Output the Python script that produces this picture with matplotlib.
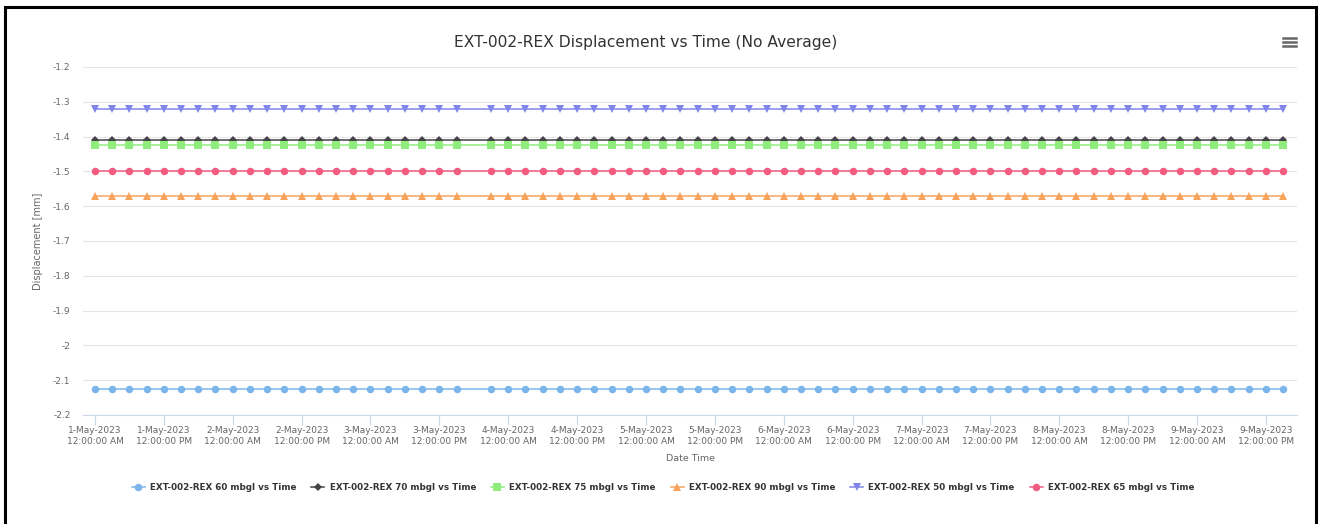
import matplotlib
matplotlib.use("Agg")
import matplotlib.pyplot as plt
import matplotlib.dates as mdates
from matplotlib.lines import Line2D
from matplotlib.patches import Rectangle
import pandas as pd

# readings every 3 h, one sample (3-May 18:00) is missing
times = pd.date_range("2023-05-01 00:00", "2023-05-09 15:00", freq="3h")
times = times.drop(pd.Timestamp("2023-05-03 18:00"))

series_names = [
    "EXT-002-REX 60 mbgl vs Time",
    "EXT-002-REX 70 mbgl vs Time",
    "EXT-002-REX 75 mbgl vs Time",
    "EXT-002-REX 90 mbgl vs Time",
    "EXT-002-REX 50 mbgl vs Time",
    "EXT-002-REX 65 mbgl vs Time",
]
levels = [-2.125, -1.41, -1.425, -1.572, -1.322, -1.50]
colors = ["#7cb5ec", "#434348", "#90ed7d", "#f7a35c", "#8085e9", "#f15c80"]
markers = ["o", "D", "s", "^", "v", "o"]
msizes = [5.4, 3.8, 5.2, 5.4, 5.4, 5.4]

xticks = pd.date_range("2023-05-01 00:00", "2023-05-09 12:00", freq="12h")
yticks = [-2.2, -2.1, -2.0, -1.9, -1.8, -1.7, -1.6, -1.5, -1.4, -1.3, -1.2]

plt.rcParams["font.family"] = ["DejaVu Sans"]
plt.rcParams["axes.unicode_minus"] = False

fig = plt.figure(figsize=(13.22, 5.24), dpi=100)
ax = fig.add_axes([83 / 1322, 1 - 415 / 524, (1297 - 83) / 1322, (415 - 67) / 524])

for name, lvl, c, m, ms in zip(series_names, levels, colors, markers, msizes):
    ax.plot(times, [lvl] * len(times), color=c, lw=1.1, marker=m, ms=ms,
            mew=0, label=name, zorder=3)

ax.set_ylim(-2.2, -1.2)
ax.set_yticks(yticks)
ax.yaxis.set_major_formatter(plt.FuncFormatter(lambda v, p: f"{v:g}"))
ax.set_xlim(pd.Timestamp("2023-04-30 21:55"), pd.Timestamp("2023-05-09 17:25"))
ax.set_xticks(xticks)
ax.xaxis.set_major_formatter(plt.FuncFormatter(
    lambda v, p: f"{mdates.num2date(v).day}-{mdates.num2date(v):%b-%Y}\n"
                 f"{mdates.num2date(v):%I:%M:%S %p}"))

ax.grid(axis="y", color="#e6e6e6", lw=0.8)
for s in ["top", "right", "left"]:
    ax.spines[s].set_visible(False)
ax.spines["bottom"].set_color("#ccd6eb")
ax.tick_params(axis="y", length=0, labelsize=6.5, labelcolor="#666666", pad=9)
ax.tick_params(axis="x", length=7, color="#ccd6eb", labelsize=6.5,
               labelcolor="#666666", pad=1)
for lbl in ax.get_xticklabels():
    lbl.set_linespacing(1.25)

ax.set_ylabel("Displacement [mm]", fontsize=7, color="#666666", labelpad=7)
ax.set_xlabel("Date Time", fontsize=6.8, color="#666666", labelpad=6)

fig.text(646 / 1322, 1 - 42 / 524, "EXT-002-REX Displacement vs Time (No Average)",
         ha="center", va="center", fontsize=11.2, color="#333333")

leg = fig.legend(loc="center", bbox_to_anchor=(663 / 1322, 1 - 488 / 524), ncol=6,
                 frameon=False, fontsize=6.3, handlelength=1.5, handletextpad=0.6,
                 columnspacing=1.7)
for t in leg.get_texts():
    t.set_color("#333333")
    t.set_fontweight("bold")

# menu icon
for dy in (-4, 0, 4):
    y = 1 - (42 + dy) / 524
    fig.add_artist(Line2D([1283 / 1322, 1296 / 1322], [y, y], color="#666666", lw=1.8))

# outer frame
fig.add_artist(Rectangle((5 / 1322, -0.05), (1316 - 5) / 1322, 1.05 - 7 / 524,
                         transform=fig.transFigure, fill=False, ec="black", lw=2.2))

fig.savefig("out.png", dpi=100)
